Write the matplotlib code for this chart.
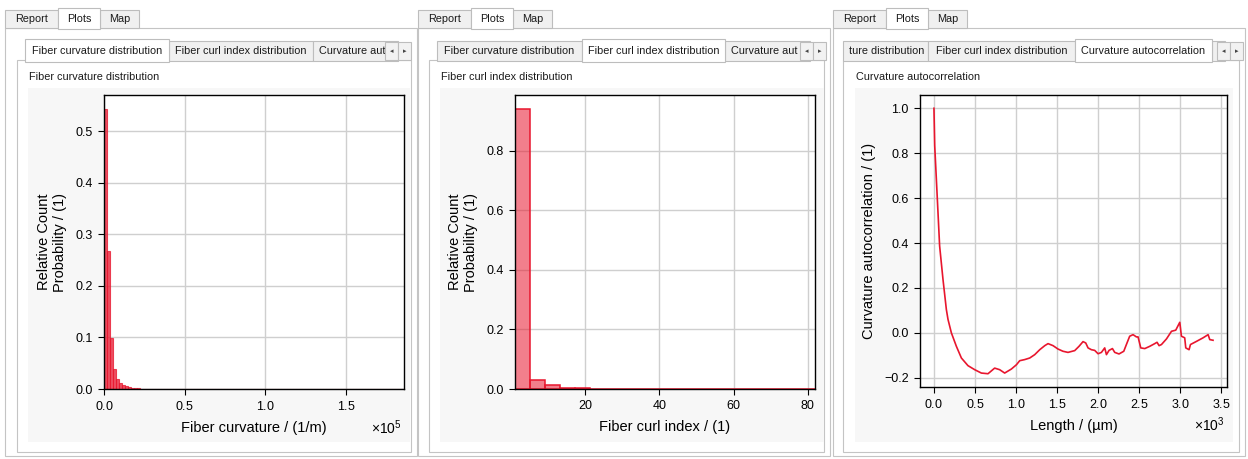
import matplotlib
matplotlib.use("Agg")
import matplotlib.pyplot as plt
from matplotlib.patches import Rectangle
from matplotlib.ticker import MultipleLocator
import numpy as np

plt.rcParams['font.family'] = ['Liberation Sans', 'DejaVu Sans']
plt.rcParams['mathtext.fontset'] = 'custom'
plt.rcParams['mathtext.rm'] = 'Liberation Sans'
plt.rcParams['mathtext.it'] = 'Liberation Sans:italic'

# --- data -------------------------------------------------------------
# fiber curvature histogram (1/m), 100 bins over [0, 186000]
curv_min, curv_max = 0.0, 186000.0
curv_prob = [0.543, 0.268, 0.099, 0.039, 0.019, 0.011, 0.007, 0.005, 0.003, 0.002,
             0.0015, 0.001, 0.0008, 0.0006, 0.0005, 0.0004, 0.0003, 0.0003, 0.0002, 0.0002,
             0.0002, 0.0001, 0.0001, 0.0001, 0.0001, 0.0001, 0.0, 0.0001, 0.0, 0.0001,
             0.0, 0.0, 0.0001, 0.0, 0.0, 0.0, 0.0001, 0.0, 0.0, 0.0,
             0.0, 0.0, 0.0, 0.0, 0.0, 0.0, 0.0, 0.0, 0.0, 0.0,
             0.0, 0.0, 0.0, 0.0, 0.0, 0.0, 0.0, 0.0, 0.0, 0.0,
             0.0, 0.0, 0.0, 0.0, 0.0, 0.0, 0.0, 0.0, 0.0, 0.0,
             0.0, 0.0, 0.0, 0.0, 0.0, 0.0, 0.0, 0.0, 0.0, 0.0,
             0.0, 0.0, 0.0, 0.0, 0.0, 0.0, 0.0, 0.0, 0.0, 0.0,
             0.0, 0.0, 0.0, 0.0, 0.0, 0.0, 0.0, 0.0, 0.0, 0.0001]

# fiber curl index histogram, 20 bins over [1, 82]
curl_min, curl_max = 1.0, 82.0
curl_prob = [0.940, 0.031, 0.012, 0.004, 0.003, 0.0015, 0.001, 0.0008, 0.0005, 0.0004,
             0.0003, 0.0002, 0.0002, 0.0001, 0.0001, 0.0001, 0.0, 0.0001, 0.0, 0.0001]

# curvature autocorrelation vs length (µm)
ac_len = [0, 9, 29, 49, 69, 110, 151, 171, 212, 273, 334, 414, 496, 577, 658, 739, 800,
          861, 943, 1004, 1044, 1105, 1166, 1227, 1288, 1349, 1389, 1450, 1510, 1571,
          1632, 1714, 1766, 1815, 1848, 1876, 1917, 1957, 1998, 2039, 2079, 2100, 2132,
          2173, 2201, 2253, 2311, 2343, 2383, 2424, 2465, 2485, 2518, 2567, 2627, 2688,
          2716, 2741, 2770, 2831, 2892, 2944, 2993, 3013, 3053, 3066, 3106, 3123, 3196,
          3277, 3338, 3358, 3398]
ac_val = [1.0, 0.835, 0.686, 0.537, 0.387, 0.238, 0.104, 0.06, 0.0, -0.06, -0.112,
          -0.146, -0.164, -0.179, -0.182, -0.157, -0.164, -0.179, -0.161, -0.142, -0.124,
          -0.119, -0.112, -0.097, -0.075, -0.057, -0.048, -0.057, -0.072, -0.082, -0.087,
          -0.079, -0.06, -0.039, -0.045, -0.067, -0.075, -0.078, -0.093, -0.087, -0.067,
          -0.097, -0.078, -0.07, -0.087, -0.094, -0.082, -0.052, -0.015, -0.008, -0.018,
          -0.018, -0.067, -0.07, -0.06, -0.048, -0.042, -0.057, -0.052, -0.027, 0.007,
          0.012, 0.047, -0.015, -0.022, -0.067, -0.075, -0.052, -0.038, -0.022, -0.008,
          -0.03, -0.033]

W, H = 1248, 459
RED = '#e8162e'
GUI_FS = 7.8

fig = plt.figure(figsize=(W / 100, H / 100), dpi=100)
fig.patch.set_facecolor('white')

# background axes in pixel coordinates for the window chrome
bg = fig.add_axes([0, 0, 1, 1])
bg.set_xlim(0, W)
bg.set_ylim(H, 0)
bg.axis('off')


def box(x0, y0, x1, y1, fc='#f0f0f0', ec='#bdbdbd', z=1, lw=0.8):
    r = Rectangle((x0, y0), x1 - x0, y1 - y0, facecolor=fc, edgecolor=ec, lw=lw, zorder=z)
    bg.add_patch(r)
    return r


def tab(x0, x1, label, selected=False, top=41, bottom=61, align='center'):
    if selected:
        box(x0, top - 2, x1, bottom + 0.5, fc='white', z=3)
    else:
        box(x0, top, x1, bottom, fc='#f0f0f0', z=2)
    if not label:
        return
    if align == 'center':
        tx, ha = (x0 + x1) / 2, 'center'
    else:
        tx, ha = x0 + 6, 'left'
    bg.text(tx, (top + bottom) / 2 + 0.5, label, ha=ha, va='center',
            fontsize=GUI_FS, color='#1a1a1a', zorder=4)


def scroll_buttons(x0):
    for i, s in enumerate(['\u25c2', '\u25b8']):
        box(x0 + i * 13, 42, x0 + i * 13 + 13, 60, fc='#f2f2f2', z=6)
        bg.text(x0 + i * 13 + 6.5, 51, s, ha='center', va='center', fontsize=5,
                family='DejaVu Sans', color='#444444', zorder=7)


panels = [
    dict(bx=5, inner=17, canvas=(28, 410), label='Fiber curvature distribution'),
    dict(bx=418, inner=429, canvas=(440, 824), label='Fiber curl index distribution'),
    dict(bx=833, inner=843, canvas=(855, 1233), label='Curvature autocorrelation'),
]

for i, p in enumerate(panels):
    bx = p['bx']
    # outer frame + top tabs
    box(bx, 28, bx + 412, 456, fc='white', ec='#c4c4c4', z=0.5)
    tab(bx, bx + 53, 'Report', top=10, bottom=28)
    tab(bx + 53, bx + 95, 'Plots', selected=True, top=10, bottom=28)
    tab(bx + 95, bx + 134, 'Map', top=10, bottom=28)
    # inner frame
    box(p['inner'], 60, bx + 406, 452, fc='white', ec='#c4c4c4', z=1)
    c0, c1 = p['canvas']
    box(c0, 88, c1, 442, fc='#f7f7f7', ec='none', z=1.5)
    bg.text(c0 + 1, 77, p['label'], ha='left', va='center', fontsize=GUI_FS,
            color='#1a1a1a', zorder=4)

# inner tab strips
tab(25, 169, 'Fiber curvature distribution', selected=True)
tab(169, 313, 'Fiber curl index distribution')
tab(313, 398, 'Curvature aut', align='left')
scroll_buttons(385)

tab(437, 582, 'Fiber curvature distribution')
tab(582, 725, 'Fiber curl index distribution', selected=True)
tab(725, 810, 'Curvature aut', align='left')
scroll_buttons(800)

tab(843, 928, 'ture distribution', align='left')
tab(928, 1075, 'Fiber curl index distribution')
tab(1075, 1212, 'Curvature autocorrelation', selected=True)
tab(1212, 1225, '')
scroll_buttons(1217)


def px_rect(x0, y0, x1, y1):
    return [x0 / W, 1 - y1 / H, (x1 - x0) / W, (y1 - y0) / H]


def style(ax):
    ax.set_facecolor('white')
    ax.grid(True, color='#cfcfcf', lw=1.0)
    ax.set_axisbelow(True)
    ax.tick_params(direction='out', length=4, width=0.8, labelsize=9, pad=4,
                   top=False, right=False)
    for s in ax.spines.values():
        s.set_color('black')
        s.set_linewidth(1.0)


def offset_label(ax, txt, dy):
    ax.annotate(txt, xy=(1, 0), xycoords='axes fraction', xytext=(-2, dy),
                textcoords='offset pixels', ha='right', va='center', fontsize=10)


# --- panel 1: curvature histogram ---
ax1 = fig.add_axes(px_rect(104, 95, 404, 389))
style(ax1)
edges1 = np.linspace(curv_min, curv_max, len(curv_prob) + 1)
ax1.bar(edges1[:-1], curv_prob, width=np.diff(edges1), align='edge',
        color=RED, alpha=0.75, edgecolor=RED, lw=0.8)
ax1.set_xlim(curv_min, curv_max)
ax1.xaxis.set_major_locator(MultipleLocator(50000))
ax1.yaxis.set_major_locator(MultipleLocator(0.1))
ax1.ticklabel_format(axis='x', style='sci', scilimits=(0, 0), useMathText=True)
ax1.xaxis.get_offset_text().set_visible(False)
ax1.set_xlabel('Fiber curvature / (1/m)', fontsize=10.5, labelpad=6)
ax1.set_ylabel('Relative Count\nProbability / (1)', fontsize=10.5, labelpad=6)
offset_label(ax1, r'$\times10^{5}$', -39)

# --- panel 2: curl index histogram ---
ax2 = fig.add_axes(px_rect(515, 95, 815, 389))
style(ax2)
edges2 = np.linspace(curl_min, curl_max, len(curl_prob) + 1)
ax2.bar(edges2[:-1], curl_prob, width=np.diff(edges2), align='edge',
        facecolor=(0.91, 0.09, 0.18, 0.55), edgecolor=RED, lw=1.1)
ax2.set_xlim(curl_min, curl_max)
ax2.xaxis.set_major_locator(MultipleLocator(20))
ax2.set_xlabel('Fiber curl index / (1)', fontsize=10.5, labelpad=6)
ax2.set_ylabel('Relative Count\nProbability / (1)', fontsize=10.5, labelpad=6)

# --- panel 3: autocorrelation ---
ax3 = fig.add_axes(px_rect(920, 95, 1227, 387))
style(ax3)
ax3.plot(ac_len, ac_val, color=RED, lw=1.2)
ax3.xaxis.set_major_locator(MultipleLocator(500))
ax3.yaxis.set_major_locator(MultipleLocator(0.2))
ax3.ticklabel_format(axis='x', style='sci', scilimits=(0, 0), useMathText=True)
ax3.xaxis.get_offset_text().set_visible(False)
ax3.set_xlabel('Length / (\u00b5m)', fontsize=10.5, labelpad=6)
ax3.set_ylabel('Curvature autocorrelation / (1)', fontsize=10.5, labelpad=6)
offset_label(ax3, r'$\times10^{3}$', -38)

fig.savefig('out.png', dpi=100)
